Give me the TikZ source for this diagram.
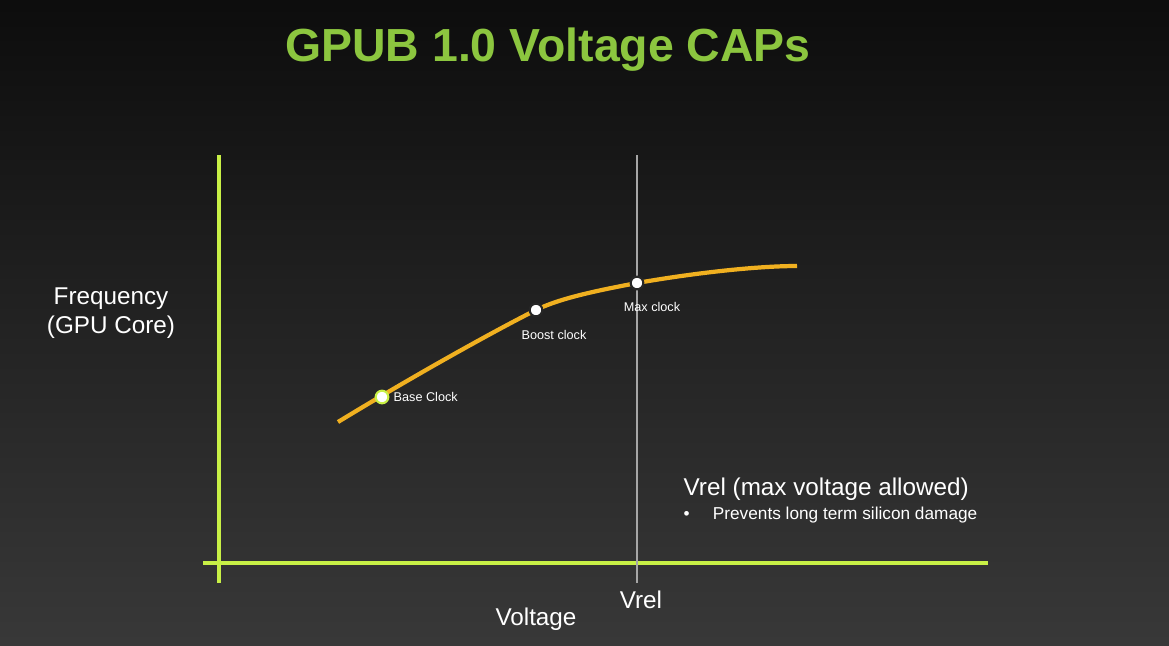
\documentclass[tikz,border=0pt]{standalone}
\usepackage{fontspec}
\setmainfont{Liberation Sans}
\begin{document}
\begin{tikzpicture}[x=0.01cm,y=-0.01cm,
  lbl/.style={text=white,font=\fontsize{3.6pt}{4pt}\selectfont,inner sep=0},
  big/.style={text=white,font=\fontsize{6.9pt}{8.3pt}\selectfont,inner sep=0,align=center},
  mk/.style={circle,draw=black!85,fill=white,line width=0.6pt,minimum size=3.6pt,inner sep=0}]
\definecolor{ttl}{RGB}{140,198,63}
\definecolor{ax}{RGB}{200,240,70}
\definecolor{crv}{RGB}{240,176,32}
\shade[top color=black!95,bottom color=black!78] (0,0) rectangle (1169,645);
\useasboundingbox (0,0) rectangle (1169,645);
\node[text=ttl,font=\fontsize{13.2pt}{15pt}\selectfont\bfseries,inner sep=0] (title) at (548,50) {GPUB 1.0 Voltage CAPs};
\coordinate (yt) at (219,155); \coordinate (yb) at (219,583);
\coordinate (xl) at (203,563); \coordinate (xr) at (988,563);
\draw[ax,line width=0.9pt] (yt) -- (yb);
\draw[ax,line width=0.9pt] (xl) -- (xr);
\coordinate (vt) at (637,155); \coordinate (vb) at (637,583);
\draw[gray!70,line width=0.3pt] (vt) -- (vb);
\coordinate (c0) at (338,422);
\coordinate (p1) at (382,397);
\coordinate (p2) at (536,310);
\coordinate (p3) at (637,283);
\coordinate (c5) at (797,266);
\draw[crv,line width=1.2pt] (c0) .. controls (420,372) and (500,328) .. (p2) .. controls (560,298) and (600,290) .. (p3) .. controls (700,272) and (760,266) .. (c5);
\node[mk,draw=ax] (base) at (p1) {};
\node[mk] (boost) at (p2) {};
\node[mk] (max) at (p3) {};
\node[lbl,anchor=west] (lb) at (393,397) {Base Clock};
\node[lbl] (lbo) at (554,335) {Boost clock};
\node[lbl] (lm) at (652,307) {Max clock};
\node[big] (freq) at (111,313) {Frequency\\(GPU Core)};
\node[big] (volt) at (536,619) {Voltage};
\node[big] (vrel) at (641,600) {Vrel};
\node[big,anchor=west] (vr2) at (683,489) {Vrel (max voltage allowed)};
\node[lbl,font=\fontsize{4.9pt}{6pt}\selectfont,anchor=west] (bul) at (683,515) {•\hspace{6.6pt}Prevents long term silicon damage};
\end{tikzpicture}
\end{document}
